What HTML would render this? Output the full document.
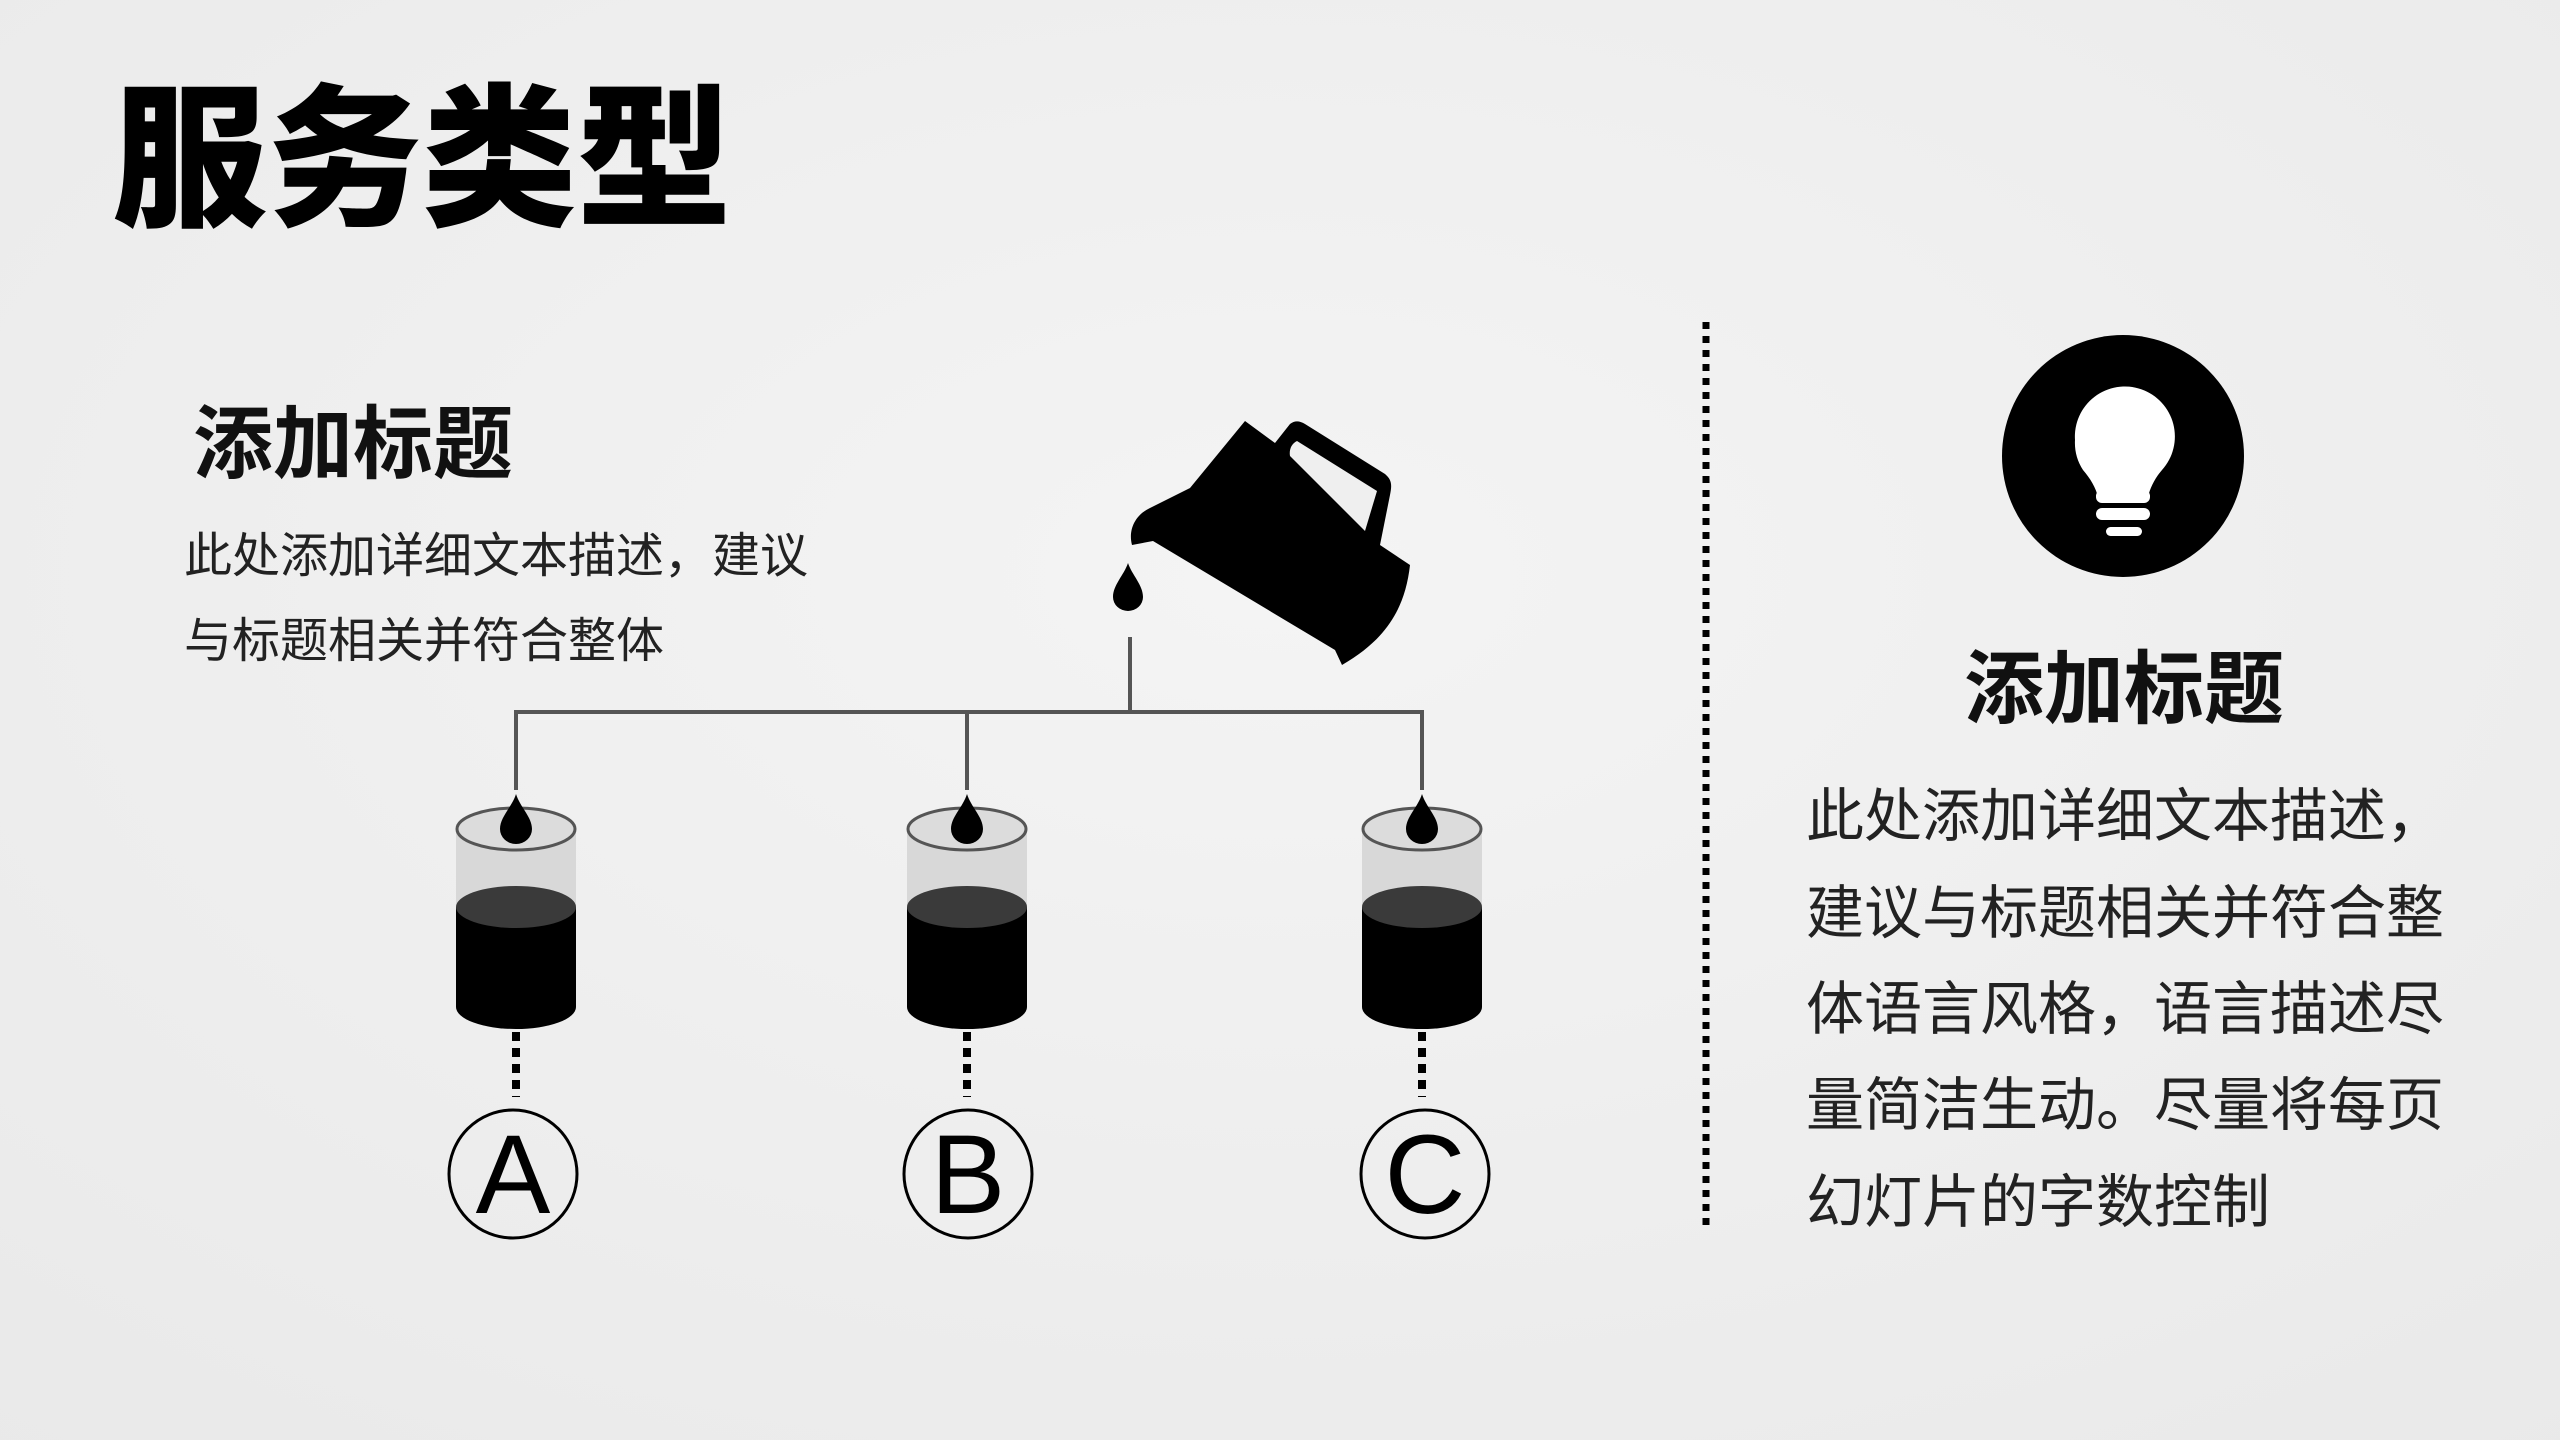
<!DOCTYPE html>
<html><head><meta charset="utf-8"><style>
html,body{margin:0;padding:0;}
body{width:2560px;height:1440px;overflow:hidden;background:#efefef;}
svg{display:block;}
</style></head><body>
<svg width="2560" height="1440" viewBox="0 0 2560 1440" xmlns="http://www.w3.org/2000/svg">
<defs>
<radialGradient id="bg" cx="50%" cy="40%" r="80%">
<stop offset="0" stop-color="#f4f4f4"/><stop offset="1" stop-color="#e9e9e9"/>
</radialGradient>
<g id="cup">
<path d="M-60,-178 L60,-178 L60,0 A60,22 0 0 1 -60,0 Z" fill="#d2d2d2" opacity="0.8"/>
<path d="M-60,-100 L60,-100 L60,0 A60,22 0 0 1 -60,0 Z" fill="#000"/>
<ellipse cx="0" cy="-100" rx="60" ry="21" fill="#3a3a3a"/>
<ellipse cx="0" cy="-178" rx="59" ry="21" fill="#dcdcdc" stroke="#555" stroke-width="3"/>
<path d="M0,-213 C4,-200 16,-190 16,-178 A16,15 0 0 1 -16,-178 C-16,-190 -4,-200 0,-213 Z" fill="#000"/>
<line x1="0" y1="25" x2="0" y2="90" stroke="#000" stroke-width="8" stroke-dasharray="9,7"/>
</g>
</defs>
<rect width="2560" height="1440" fill="url(#bg)"/>

<g font-family="'Liberation Sans','Noto Sans CJK SC',sans-serif">
<text x="112" y="214" font-size="155" font-weight="900" fill="#000">服务类型</text>
<text x="193" y="472" font-size="80" font-weight="700" fill="#111">添加标题</text>
<text x="184" y="572" font-size="48" fill="#222">此处添加详细文本描述，建议</text>
<text x="184" y="657" font-size="48" fill="#222">与标题相关并符合整体</text>

<text x="1964" y="717" font-size="80" font-weight="700" fill="#111">添加标题</text>
<g font-size="58" fill="#222">
<text x="1806" y="836">此处添加详细文本描述，</text>
<text x="1806" y="933">建议与标题相关并符合整</text>
<text x="1806" y="1029">体语言风格，语言描述尽</text>
<text x="1806" y="1125">量简洁生动。尽量将每页</text>
<text x="1806" y="1222">幻灯片的字数控制</text>
</g>
</g>

<line x1="1706" y1="322" x2="1706" y2="1225" stroke="#000" stroke-width="7" stroke-dasharray="7,7"/>

<circle cx="2123" cy="456" r="121" fill="#000"/>
<path d="M2075,440 A50,50 0 1 1 2162,470 C2155,478 2150,488 2148,497 L2098,497 C2096,488 2090,478 2083,470 A50,50 0 0 1 2075,440 Z" fill="#fff"/>
<rect x="2096" y="490" width="54" height="13" rx="6" fill="#fff"/>
<rect x="2096" y="508" width="54" height="12" rx="6" fill="#fff"/>
<rect x="2106" y="527" width="36" height="9" rx="4.5" fill="#fff"/>

<path d="M1245,421 L1275,443 L1290,424 C1295,420 1300,421 1305,424 L1385,474 C1392,480 1392,485 1390,495 L1380,545 L1410,565 C1405,610 1385,640 1342,665 L1335,650 L1153,541 L1132,545 C1128,530 1135,515 1150,508 L1190,488 Z" fill="#000"/>
<path d="M1297,441 C1291,444 1289,450 1290,456 L1365,531 L1377,491 Z" fill="#efefef"/>
<path d="M1128,563 C1132,575 1143,585 1143,597 A15,14 0 0 1 1113,597 C1113,585 1124,575 1128,563 Z" fill="#000"/>

<g stroke="#555" stroke-width="4" fill="none">
<line x1="1130" y1="637" x2="1130" y2="712"/>
<line x1="514" y1="712" x2="1424" y2="712"/>
<line x1="516" y1="710" x2="516" y2="790"/>
<line x1="967" y1="710" x2="967" y2="790"/>
<line x1="1422" y1="710" x2="1422" y2="790"/>
</g>

<use href="#cup" x="516" y="1007"/>
<use href="#cup" x="967" y="1007"/>
<use href="#cup" x="1422" y="1007"/>

<g fill="none" stroke="#000" stroke-width="3">
<circle cx="513" cy="1174" r="64"/>
<circle cx="968" cy="1174" r="64"/>
<circle cx="1425" cy="1174" r="64"/>
</g>
<g font-family="'Liberation Sans',sans-serif" font-size="112" fill="#000" text-anchor="middle">
<text x="513" y="1213">A</text>
<text x="968" y="1213">B</text>
<text x="1425" y="1213">C</text>
</g>
</svg>
</body></html>
